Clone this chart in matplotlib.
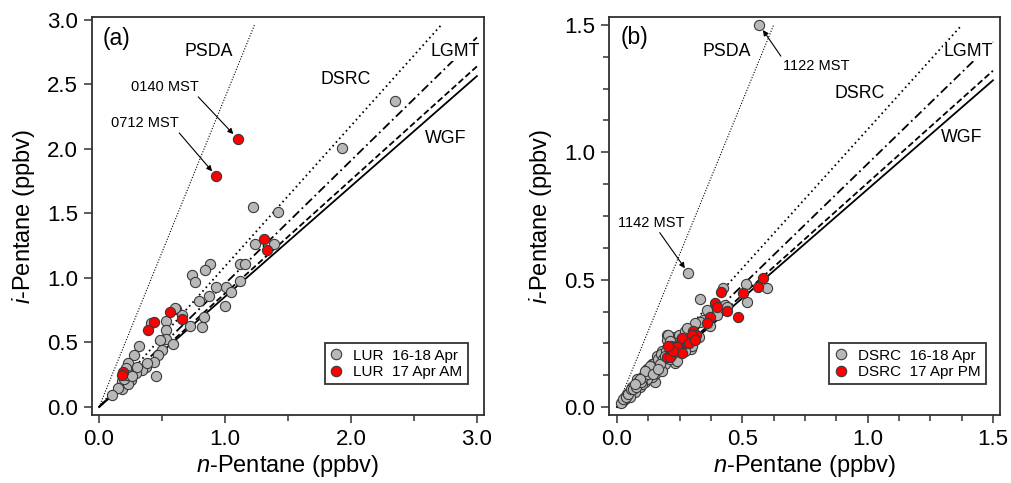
import matplotlib
matplotlib.use("Agg")
import matplotlib.pyplot as plt
from matplotlib.ticker import MultipleLocator, FormatStrFormatter
from matplotlib.lines import Line2D

plt.rcParams['font.family'] = ['Liberation Sans', 'DejaVu Sans']
plt.rcParams['mathtext.fontset'] = 'custom'
plt.rcParams['mathtext.it'] = 'Liberation Sans:italic'
plt.rcParams['mathtext.rm'] = 'Liberation Sans'
plt.rcParams['lines.scale_dashes'] = False

# ---------------- data ----------------
# Panel (a): LUR
lur_all_x = [2.35, 1.93, 1.22, 1.42, 1.24, 1.39, 0.88, 0.84, 0.74, 0.76, 1.12, 1.16, 1.12, 1.01,
             1.05, 0.93, 0.87, 0.79, 1.00, 0.83, 0.82, 0.72, 0.61, 0.66, 0.53, 0.53, 0.41, 0.53,
             0.48, 0.59, 0.32, 0.28, 0.45, 0.50, 0.47, 0.44, 0.37, 0.34, 0.29, 0.25, 0.23, 0.21,
             0.18, 0.18, 0.23, 0.38, 0.30, 0.20, 0.22, 0.26, 0.15, 0.10, 0.60]
lur_all_y = [2.37, 2.01, 1.55, 1.51, 1.26, 1.26, 1.11, 1.06, 1.02, 0.97, 1.11, 1.11, 0.98, 0.93,
             0.89, 0.93, 0.86, 0.82, 0.78, 0.70, 0.62, 0.63, 0.76, 0.71, 0.67, 0.60, 0.65, 0.53,
             0.52, 0.49, 0.47, 0.40, 0.24, 0.44, 0.40, 0.35, 0.31, 0.29, 0.26, 0.21, 0.34, 0.30,
             0.20, 0.14, 0.18, 0.34, 0.31, 0.22, 0.25, 0.24, 0.15, 0.09, 0.77]
lur_am_x = [1.10, 0.93, 1.31, 1.33, 0.56, 0.66, 0.44, 0.39, 0.19, 0.18]
lur_am_y = [2.08, 1.79, 1.30, 1.22, 0.74, 0.68, 0.66, 0.60, 0.27, 0.25]

# Panel (b): DSRC
dsrc_all_x = [0.568, 0.285, 0.597, 0.515, 0.517, 0.331, 0.431, 0.344, 0.331, 0.328, 0.231, 0.198,
              0.291, 0.225, 0.178, 0.424, 0.438, 0.294, 0.231, 0.152, 0.198, 0.205, 0.249,
              0.37, 0.30, 0.27, 0.25, 0.22, 0.21, 0.20, 0.19, 0.17, 0.16, 0.15, 0.14, 0.16, 0.18,
              0.13, 0.12, 0.11, 0.10, 0.09, 0.08, 0.07, 0.06, 0.05, 0.04, 0.03, 0.02, 0.12, 0.14,
              0.10, 0.11, 0.13, 0.15, 0.17, 0.19, 0.21, 0.23, 0.24, 0.18, 0.09, 0.07, 0.05, 0.08,
              0.06, 0.04, 0.03, 0.16, 0.22, 0.26, 0.28, 0.20, 0.14, 0.12, 0.10, 0.015, 0.025,
              0.035, 0.045, 0.055, 0.065, 0.075, 0.085, 0.095, 0.105, 0.115, 0.125, 0.135, 0.145,
              0.155, 0.165, 0.175, 0.185, 0.195, 0.215, 0.235, 0.255, 0.27, 0.31, 0.36, 0.40,
              0.13, 0.11, 0.09, 0.07, 0.17, 0.19, 0.145, 0.165, 0.25, 0.28]
dsrc_all_y = [1.500, 0.525, 0.466, 0.483, 0.414, 0.423, 0.401, 0.342, 0.335, 0.274, 0.276, 0.283,
              0.230, 0.185, 0.198, 0.466, 0.394, 0.227, 0.172, 0.100, 0.263, 0.283, 0.283,
              0.32, 0.24, 0.22, 0.26, 0.24, 0.26, 0.23, 0.21, 0.19, 0.17, 0.16, 0.15, 0.20, 0.22,
              0.14, 0.13, 0.12, 0.11, 0.10, 0.09, 0.07, 0.06, 0.05, 0.04, 0.03, 0.02, 0.15, 0.17,
              0.12, 0.10, 0.12, 0.13, 0.15, 0.17, 0.19, 0.20, 0.18, 0.14, 0.08, 0.06, 0.04, 0.11,
              0.08, 0.05, 0.04, 0.15, 0.21, 0.27, 0.27, 0.20, 0.12, 0.11, 0.09, 0.015, 0.03,
              0.04, 0.05, 0.07, 0.07, 0.08, 0.10, 0.10, 0.12, 0.14, 0.13, 0.16, 0.17,
              0.16, 0.19, 0.21, 0.19, 0.22, 0.24, 0.23, 0.24, 0.30, 0.33, 0.38, 0.36,
              0.16, 0.14, 0.11, 0.09, 0.17, 0.20, 0.13, 0.15, 0.22, 0.31]
dsrc_pm_x = [0.581, 0.564, 0.501, 0.414, 0.391, 0.398, 0.438, 0.484, 0.371, 0.358, 0.304, 0.315,
             0.262, 0.245, 0.222, 0.278, 0.198, 0.251, 0.259, 0.299, 0.239, 0.213, 0.259, 0.286,
             0.312, 0.225, 0.205]
dsrc_pm_y = [0.505, 0.473, 0.447, 0.453, 0.407, 0.394, 0.378, 0.355, 0.355, 0.329, 0.300, 0.283,
             0.267, 0.244, 0.234, 0.250, 0.198, 0.217, 0.270, 0.283, 0.237, 0.198, 0.211, 0.250,
             0.263, 0.22, 0.24]

# Reference emission-ratio lines (i-pentane / n-pentane)
ratio_names = ['PSDA', 'DSRC', 'LGMT', 'LUR', 'WGF']
ratio_slopes = [2.40, 1.09, 0.955, 0.88, 0.855]

# ---------------- styles ----------------
line_styles = {
    'PSDA': dict(ls=(0, (0.8, 1.2)), lw=0.8),
    'DSRC': dict(ls=(0, (1.2, 2.4)), lw=1.3),
    'LGMT': dict(ls=(0, (6.5, 2.6, 1.3, 2.6)), lw=1.3),
    'LUR': dict(ls=(0, (4.5, 2.2)), lw=1.3),
    'WGF': dict(ls='-', lw=1.3),
}
gray = '#b8b8b8'
red = '#ff0000'
edge = '#3a3a3a'
frame_c = '#303030'

fig = plt.figure(figsize=(10.11, 4.83), dpi=100)
axA = fig.add_axes([0.091, 0.1408, 0.3877, 0.824])
axB = fig.add_axes([0.6024, 0.1408, 0.3867, 0.824])


def draw_lines(ax, xmax, ymax):
    for name, s in zip(ratio_names, ratio_slopes):
        xe = min(xmax, ymax / s)
        ax.plot([0, xe], [0, s * xe], color='k', zorder=2, **line_styles[name])


def style_axes(ax, xmaj, xmin, ymaj, ymin):
    for sp in ax.spines.values():
        sp.set_color(frame_c)
        sp.set_linewidth(1.3)
    ax.xaxis.set_major_locator(MultipleLocator(xmaj))
    ax.xaxis.set_minor_locator(MultipleLocator(xmin))
    ax.yaxis.set_major_locator(MultipleLocator(ymaj))
    if ymin:
        ax.yaxis.set_minor_locator(MultipleLocator(ymin))
    ax.xaxis.set_major_formatter(FormatStrFormatter('%.1f'))
    ax.yaxis.set_major_formatter(FormatStrFormatter('%.1f'))
    ax.tick_params(which='major', direction='out', length=6, width=1.1, color=frame_c,
                   labelsize=16, pad=4)
    ax.tick_params(which='minor', direction='out', length=4, width=1.1, color=frame_c)
    ax.set_xlabel(r'$\it{n}$-Pentane (ppbv)', fontsize=17, labelpad=2)
    ax.set_ylabel(r'$\it{i}$-Pentane (ppbv)', fontsize=17, labelpad=7)


def legend(ax, labels, anchor):
    h = [Line2D([], [], ls='none', marker='o', ms=7.5, mfc=gray, mec=edge, mew=0.8),
         Line2D([], [], ls='none', marker='o', ms=7.5, mfc=red, mec=edge, mew=0.8)]
    lg = ax.legend(h, labels, loc='lower right', bbox_to_anchor=anchor, borderaxespad=0,
                   fontsize=11, frameon=True, fancybox=False, handlelength=0.8,
                   handletextpad=0.7, borderpad=0.35, labelspacing=0.15)
    lg.get_frame().set_edgecolor('k')
    lg.get_frame().set_linewidth(1.3)
    lg.set_zorder(6)


ms = 54
# ---- panel (a) ----
draw_lines(axA, 3.0, 2.97)
axA.scatter(lur_all_x, lur_all_y, s=ms, c=gray, edgecolors=edge, linewidths=0.8, zorder=3)
axA.scatter(lur_am_x, lur_am_y, s=ms, c=red, edgecolors=edge, linewidths=0.8, zorder=4)
axA.set_xlim(-0.056, 3.056)
axA.set_ylim(-0.062, 3.023)
style_axes(axA, 1.0, 0.5, 0.5, None)
tb = dict(facecolor='white', edgecolor='none', pad=0.5)
axA.text(0.135, 2.86, '(a)', fontsize=16.5, ha='center', va='center')
axA.text(0.873, 2.752, 'PSDA', fontsize=12.8, ha='center', va='center', zorder=5)
axA.text(1.96, 2.535, 'DSRC', fontsize=12.8, ha='center', va='center', zorder=5)
axA.text(2.825, 2.752, 'LGMT', fontsize=12.8, ha='center', va='center', zorder=5, bbox=tb)
axA.text(2.754, 2.085, 'WGF', fontsize=12.8, ha='center', va='center', zorder=5)
ap = dict(arrowstyle='-|>', lw=0.8, color='k', mutation_scale=8, shrinkA=0, shrinkB=4.5)
axA.annotate('0140 MST', xy=(lur_am_x[0], lur_am_y[0]), xytext=(0.524, 2.48), fontsize=10.5,
             ha='center', va='center', arrowprops=dict(relpos=(0.95, 0.0), **ap), zorder=5)
axA.annotate('0712 MST', xy=(lur_am_x[1], lur_am_y[1]), xytext=(0.365, 2.20), fontsize=10.5,
             ha='center', va='center', arrowprops=dict(relpos=(0.97, 0.0), **ap), zorder=5)
legend(axA, ['LUR  16-18 Apr', 'LUR  17 Apr AM'], (0.958, 0.077))

# ---- panel (b) ----
draw_lines(axB, 1.5, 1.5)
axB.scatter(dsrc_all_x, dsrc_all_y, s=ms, c=gray, edgecolors=edge, linewidths=0.8, zorder=3)
axB.scatter(dsrc_pm_x, dsrc_pm_y, s=ms, c=red, edgecolors=edge, linewidths=0.8, zorder=4)
axB.set_xlim(-0.032, 1.528)
axB.set_ylim(-0.031, 1.531)
style_axes(axB, 0.5, 0.125, 0.5, 0.125)
axB.text(0.068, 1.449, '(b)', fontsize=16.5, ha='center', va='center')
axB.text(0.439, 1.394, 'PSDA', fontsize=12.8, ha='center', va='center', zorder=5)
axB.text(0.969, 1.229, 'DSRC', fontsize=12.8, ha='center', va='center', zorder=5)
axB.text(1.40, 1.394, 'LGMT', fontsize=12.8, ha='center', va='center', zorder=5, bbox=tb)
axB.text(1.376, 1.057, 'WGF', fontsize=12.8, ha='center', va='center', zorder=5)
axB.annotate('1122 MST', xy=(dsrc_all_x[0], dsrc_all_y[0]), xytext=(0.794, 1.339), fontsize=10.5,
             ha='center', va='center', arrowprops=dict(relpos=(0.0, 1.0), **ap), zorder=5)
axB.annotate('1142 MST', xy=(dsrc_all_x[1], dsrc_all_y[1]), xytext=(0.136, 0.723), fontsize=10.5,
             ha='center', va='center', arrowprops=dict(relpos=(0.6, 0.0), **ap), zorder=5)
legend(axB, ['DSRC  16-18 Apr', 'DSRC  17 Apr PM'], (0.963, 0.077))

fig.savefig('out.png', dpi=100)
